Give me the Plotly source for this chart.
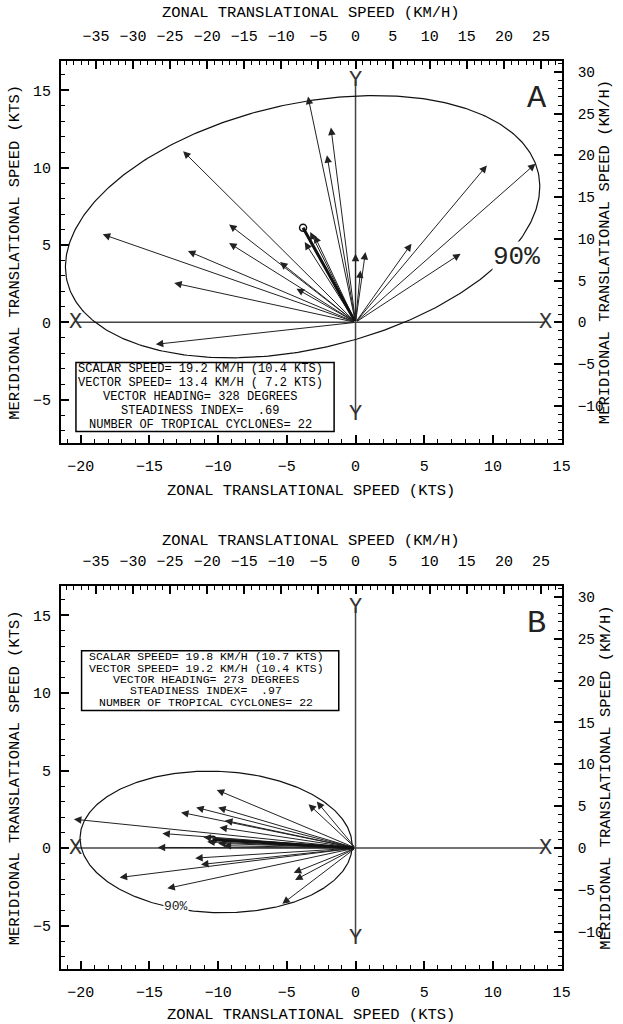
import numpy as np
import plotly.graph_objects as go

W, H = 623, 1024
PAGE_OFFSET = 0  # body margin is removed by the post_script below
FONT = "Liberation Mono"
KT2KMH = 1.852

# ---------------- data (knots) ----------------
# Panel A: individual storm translation vectors (u = zonal, v = meridional)
a_u = [-3.46, -1.79, -2.08, -12.55, -18.4, -9.2, -9.2, -12.2, -13.2, -14.54,
       -3.7, -3.0, -3.3, -5.5, -4.3, 0.0, 0.72, 0.36, 4.07, 9.56, 13.1, 7.65]
a_v = [14.6, 12.6, 10.8, 11.07, 5.69, 6.33, 5.13, 4.61, 2.54, -1.42,
       5.19, 5.62, 5.85, 3.9, 2.18, 4.44, 4.55, 3.36, 5.09, 10.15, 10.26, 4.44]
a_mean_u = [-3.82]
a_mean_v = [6.12]
# points read along the 90% ellipse of panel A
a_ell_x = [3.54, -19.06, 0.0, 13.39, -21.06, -10.33, 13.1, -3.52, -12.73]
a_ell_y = [0.0, 0.0, 14.56, 8.32, 3.58, -2.24, 10.26, 14.4, 11.76]
a_stats = ["SCALAR SPEED= 19.2 KM/H (10.4 KTS)",
           "VECTOR SPEED= 13.4 KM/H ( 7.2 KTS)",
           "VECTOR HEADING= 328 DEGREES",
           "STEADINESS INDEX=  .69",
           "NUMBER OF TROPICAL CYCLONES= 22"]

# Panel B
b_u = [-20.5, -10.1, -11.6, -12.7, -10.0, -9.5, -14.06, -11.07, -9.9, -14.4,
       -3.42, -2.82, -11.67, -11.25, -17.17, -13.7, -4.5, -4.4, -5.33,
       -10.0, -9.6, -10.8]
b_v = [1.86, 3.75, 2.62, 2.3, 2.62, 1.78, 0.94, 0.69, 1.33, 0.04,
       2.83, 3.0, -0.65, -1.06, -1.9, -2.6, -1.6, -2.06, -3.6,
       0.3, 0.15, 0.4]
b_mean_u = [-10.39]
b_mean_v = [0.54]
b_ell_x = [-20.04, -10.83, -17.53, -3.18, -1.27, -0.19, -0.55, -2.22, -9.4, -15.0]
b_ell_y = [0.5, 4.97, 3.58, 3.58, 1.86, 0.15, -1.14, -2.64, -4.05, -3.55]
b_stats = ["SCALAR SPEED= 19.8 KM/H (10.7 KTS)",
           "VECTOR SPEED= 19.2 KM/H (10.4 KTS)",
           "VECTOR HEADING= 273 DEGREES",
           "STEADINESS INDEX=  .97",
           "NUMBER OF TROPICAL CYCLONES= 22"]

X_RANGE = [-21.43, 15.01]
Y_RANGE = [-7.8, 16.9]


# ---------------- helpers (screen pixel -> paper fraction) ----------------
def fx(p):
    return (p - PAGE_OFFSET) / W


def fy(p):
    return 1 - (p - PAGE_OFFSET) / H


def fit_ellipse(xs, ys, n=400):
    x = np.asarray(xs, float)
    y = np.asarray(ys, float)
    D = np.column_stack([x * x, x * y, y * y, x, y, np.ones_like(x)])
    _, _, Vt = np.linalg.svd(D)
    A, B, C, Dc, E, F = Vt[-1]
    x0, y0 = np.linalg.solve(np.array([[2 * A, B], [B, 2 * C]]), [-Dc, -E])
    Fp = A * x0 * x0 + B * x0 * y0 + C * y0 * y0 + Dc * x0 + E * y0 + F
    w, V = np.linalg.eigh(np.array([[A, B / 2], [B / 2, C]]))
    semi = np.sqrt(np.abs(Fp / w))
    t = np.linspace(0, 2 * np.pi, n)
    pts = V @ np.vstack([semi[0] * np.cos(t), semi[1] * np.sin(t)])
    return pts[0] + x0, pts[1] + y0


fig = go.Figure()

panels = [
    dict(xa="x", ya="y", xt="x3", yr="y3", top=61, bottom=443,
         u=a_u, v=a_v, mu=a_mean_u, mv=a_mean_v, ex=a_ell_x, ey=a_ell_y,
         stats=a_stats, letter="A",
         xline=[-20.35, 13.8], yline=[-5.95, 15.64],
         box=[-20.35, -1.56, -2.6, -7.05], box_cx=-11.31,
         lines_y=[-3.04, -3.94, -4.85, -5.75, -6.63], stat_size=12,
         pct=(11.71, 4.22), pct_size=26,
         top_title=13, bot_title=491),
    dict(xa="x2", ya="y2", xt="x4", yr="y4", top=586, bottom=969,
         u=b_u, v=b_v, mu=b_mean_u, mv=b_mean_v, ex=b_ell_x, ey=b_ell_y,
         stats=b_stats, letter="B",
         xline=[-20.35, 13.8], yline=[-5.85, 15.5],
         box=[-19.94, -1.22, 12.73, 8.87], box_cx=-10.87,
         lines_y=[12.35, 11.61, 10.87, 10.13, 9.39], stat_size=11.5,
         pct=(-13.1, -3.8), pct_size=13,
         top_title=541, bot_title=1015),
]

axis_common = dict(
    showgrid=False, zeroline=False, showline=True, linecolor="black",
    linewidth=2, ticks="inside", ticklen=8, tickwidth=1.5, tickcolor="black",
    tickmode="linear", tick0=0, dtick=5,
    minor=dict(ticks="inside", ticklen=4, tick0=0, dtick=1,
               tickcolor="black", tickwidth=1),
    tickfont=dict(family=FONT, size=15, color="black"),
    fixedrange=True,
)

annotations = []
shapes = []
layout_axes = {}


def key(a):
    return ("xaxis" if a[0] == "x" else "yaxis") + a[1:]


for p in panels:
    xa, ya, xt, yr = p["xa"], p["ya"], p["xt"], p["yr"]
    ydom = [fy(p["bottom"]), fy(p["top"])]
    xdom = [fx(62), fx(570)]

    layout_axes[key(xa)] = dict(axis_common, domain=xdom, anchor=ya,
                                range=X_RANGE, side="bottom",
                                ticklabelstandoff=8)
    layout_axes[key(ya)] = dict(axis_common, domain=ydom, anchor=xa,
                                range=Y_RANGE, side="left",
                                ticklabelstandoff=5)
    layout_axes[key(xt)] = dict(axis_common, overlaying=xa, anchor=ya,
                                range=[r * KT2KMH for r in X_RANGE],
                                side="top", ticklabelstandoff=12)
    layout_axes[key(yr)] = dict(axis_common, overlaying=ya, anchor=xa,
                                range=[r * KT2KMH for r in Y_RANGE],
                                side="right", ticklabelstandoff=11,
                                tickfont=dict(family=FONT, size=14.5,
                                              color="black"))

    # dummy trace so overlaid km/h axes are drawn
    fig.add_trace(go.Scatter(x=[0], y=[0], xaxis=xt, yaxis=yr, mode="markers",
                             marker=dict(opacity=0), hoverinfo="skip",
                             showlegend=False))

    # origin cross lines
    fig.add_trace(go.Scatter(x=p["xline"], y=[0, 0], xaxis=xa, yaxis=ya,
                             mode="lines", line=dict(color="#444", width=1.5),
                             hoverinfo="skip", showlegend=False))
    fig.add_trace(go.Scatter(x=[0, 0], y=p["yline"], xaxis=xa, yaxis=ya,
                             mode="lines", line=dict(color="#444", width=1.5),
                             hoverinfo="skip", showlegend=False))

    # 90% ellipse
    ex, ey = fit_ellipse(p["ex"], p["ey"])
    fig.add_trace(go.Scatter(x=ex, y=ey, xaxis=xa, yaxis=ya, mode="lines",
                             line=dict(color="#111", width=1.2),
                             hoverinfo="skip", showlegend=False))

    # storm vectors
    for u, v in zip(p["u"], p["v"]):
        annotations.append(dict(x=u, y=v, ax=0, ay=0, xref=xa, yref=ya,
                                axref=xa, ayref=ya, text="", showarrow=True,
                                arrowhead=2, arrowsize=1.5, arrowwidth=1,
                                arrowcolor="#222", standoff=0))
    # mean vector
    for u, v in zip(p["mu"], p["mv"]):
        annotations.append(dict(x=u, y=v, ax=0, ay=0, xref=xa, yref=ya,
                                axref=xa, ayref=ya, text="", showarrow=True,
                                arrowhead=0, arrowwidth=3,
                                arrowcolor="#111", standoff=0))
    fig.add_trace(go.Scatter(x=p["mu"], y=p["mv"], xaxis=xa, yaxis=ya,
                             mode="markers",
                             marker=dict(symbol="circle-open", size=7,
                                         color="#111", line=dict(width=1.5)),
                             hoverinfo="skip", showlegend=False))

    # X / Y labels at cross-line ends
    for xx in p["xline"]:
        annotations.append(dict(x=xx, y=0, xref=xa, yref=ya, text="X",
                                showarrow=False,
                                font=dict(family=FONT, size=22, color="#333")))
    for yy in p["yline"]:
        annotations.append(dict(x=0, y=yy, xref=xa, yref=ya, text="Y",
                                showarrow=False,
                                font=dict(family=FONT, size=22, color="#333")))

    # panel letter
    annotations.append(dict(x=13.2, y=14.5, xref=xa, yref=ya, text=p["letter"],
                            showarrow=False,
                            font=dict(family=FONT, size=32, color="#222")))
    # 90% label
    annotations.append(dict(x=p["pct"][0], y=p["pct"][1], xref=xa, yref=ya,
                            text="90%", showarrow=False, bgcolor="white",
                            borderpad=0,
                            font=dict(family=FONT, size=p["pct_size"],
                                      color="#222")))

    # statistics box
    bx0, bx1, by0, by1 = p["box"]
    shapes.append(dict(type="rect", xref=xa, yref=ya, x0=bx0, x1=bx1,
                       y0=by1, y1=by0, line=dict(color="black", width=1.5),
                       fillcolor="white", layer="below"))
    for txt, ly in zip(p["stats"], p["lines_y"]):
        annotations.append(dict(x=p["box_cx"], y=ly, xref=xa, yref=ya,
                                text=txt.replace(" ", "&nbsp;"),
                                showarrow=False, borderpad=0,
                                font=dict(family=FONT, size=p["stat_size"],
                                          color="black")))

    # axis titles
    tf = dict(family=FONT, size=15.5, color="black")
    cx = fx(316)
    cy = fy((p["top"] + p["bottom"]) / 2)
    common_t = dict(xref="paper", yref="paper", showarrow=False, font=tf,
                    xanchor="center", yanchor="middle")
    annotations.append(dict(common_t, x=cx, y=fy(p["top_title"]),
                            text="ZONAL TRANSLATIONAL SPEED (KM/H)"))
    annotations.append(dict(common_t, x=cx, y=fy(p["bot_title"]),
                            text="ZONAL TRANSLATIONAL SPEED (KTS)"))
    annotations.append(dict(common_t, x=fx(15), y=cy, textangle=-90,
                            text="MERIDIONAL TRANSLATIONAL SPEED (KTS)"))
    annotations.append(dict(common_t, x=fx(614), y=cy, textangle=-90,
                            text="MERIDIONAL TRANSLATIONAL SPEED (KM/H)"))

fig.update_layout(
    width=W, height=H, margin=dict(l=0, r=0, t=0, b=0),
    paper_bgcolor="white", plot_bgcolor="white", showlegend=False,
    annotations=annotations, shapes=shapes,
    **layout_axes,
)

fig.write_html("out.html",
               config={"displayModeBar": False},
               post_script="document.body.style.margin='0px';")
